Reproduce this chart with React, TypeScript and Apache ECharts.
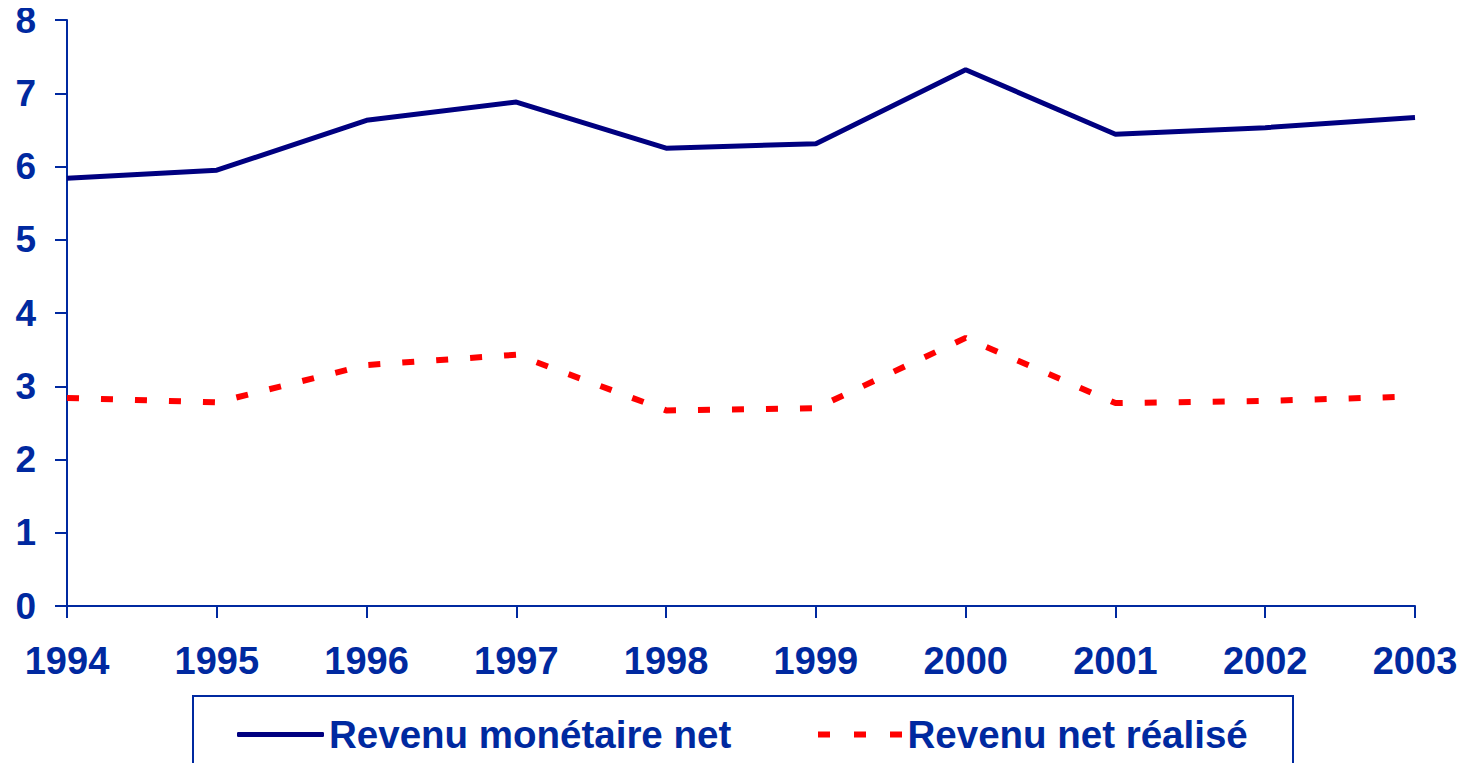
import React, { useEffect, useRef } from "react";
import * as echarts from "echarts";

const years = ["1994", "1995", "1996", "1997", "1998", "1999", "2000", "2001", "2002", "2003"];
const revenuMonetaireNet = [5.84, 5.95, 6.63, 6.88, 6.25, 6.31, 7.32, 6.44, 6.53, 6.67];
const revenuNetRealise = [2.84, 2.78, 3.29, 3.43, 2.67, 2.7, 3.66, 2.77, 2.8, 2.86];
const seriesNames = ["Revenu monétaire net", "Revenu net réalisé"];

const BLUE = "#0029A0";
const NAVY = "#000080";
const RED = "#FF0000";
const FONT = "Liberation Sans, Arial, sans-serif";

export default function App() {
  const ref = useRef<HTMLDivElement>(null);
  useEffect(() => {
    if (!ref.current) return;
    const chart = echarts.init(ref.current, null, { renderer: "svg" });
    const legendText = { color: BLUE, fontSize: 38.5, fontWeight: "bold", fontFamily: FONT };
    chart.setOption({
      animation: false,
      grid: { left: 67, right: 50, top: 20, bottom: 165 },
      xAxis: {
        type: "category",
        data: years,
        boundaryGap: false,
        axisLine: { lineStyle: { color: BLUE, width: 2 } },
        axisTick: { alignWithLabel: true, length: 12, lineStyle: { color: BLUE, width: 2 } },
        axisLabel: { color: BLUE, fontSize: 38, fontWeight: "bold", fontFamily: FONT, margin: 36 },
        splitLine: { show: false },
      },
      yAxis: {
        type: "value",
        min: 0,
        max: 8,
        interval: 1,
        axisLine: { show: true, lineStyle: { color: BLUE, width: 2 } },
        axisTick: { show: true, length: 12, lineStyle: { color: BLUE, width: 2 } },
        axisLabel: { color: BLUE, fontSize: 37, fontWeight: "bold", fontFamily: FONT, margin: 31 },
        splitLine: { show: false },
      },
      legend: [
        {
          data: [seriesNames[0]],
          left: 237,
          top: 715,
          padding: 0,
          icon: "roundRect",
          itemWidth: 87,
          itemHeight: 5,
          itemGap: 9,
          textStyle: legendText,
        },
        {
          data: [seriesNames[1]],
          left: 818,
          top: 715,
          padding: 0,
          icon: "path://M0,0h12v6h-12z M36,0h12v6h-12z M72,0h12v6h-12z",
          itemWidth: 85,
          itemHeight: 6,
          itemGap: 12,
          textStyle: legendText,
        },
      ],
      graphic: [
        {
          type: "rect",
          shape: { x: 193, y: 696, width: 1100, height: 100 },
          style: { fill: "none", stroke: BLUE, lineWidth: 2 },
          silent: true,
        },
      ],
      series: [
        {
          name: seriesNames[0],
          type: "line",
          data: revenuMonetaireNet,
          symbol: "none",
          lineStyle: { color: NAVY, width: 5 },
          itemStyle: { color: NAVY },
        },
        {
          name: seriesNames[1],
          type: "line",
          data: revenuNetRealise,
          symbol: "none",
          lineStyle: { color: RED, width: 6, type: [12, 22] },
          itemStyle: { color: RED },
        },
      ],
    });
    return () => chart.dispose();
  }, []);
  return <div ref={ref} style={{ width: 1465, height: 771, margin: -8 }} />;
}
